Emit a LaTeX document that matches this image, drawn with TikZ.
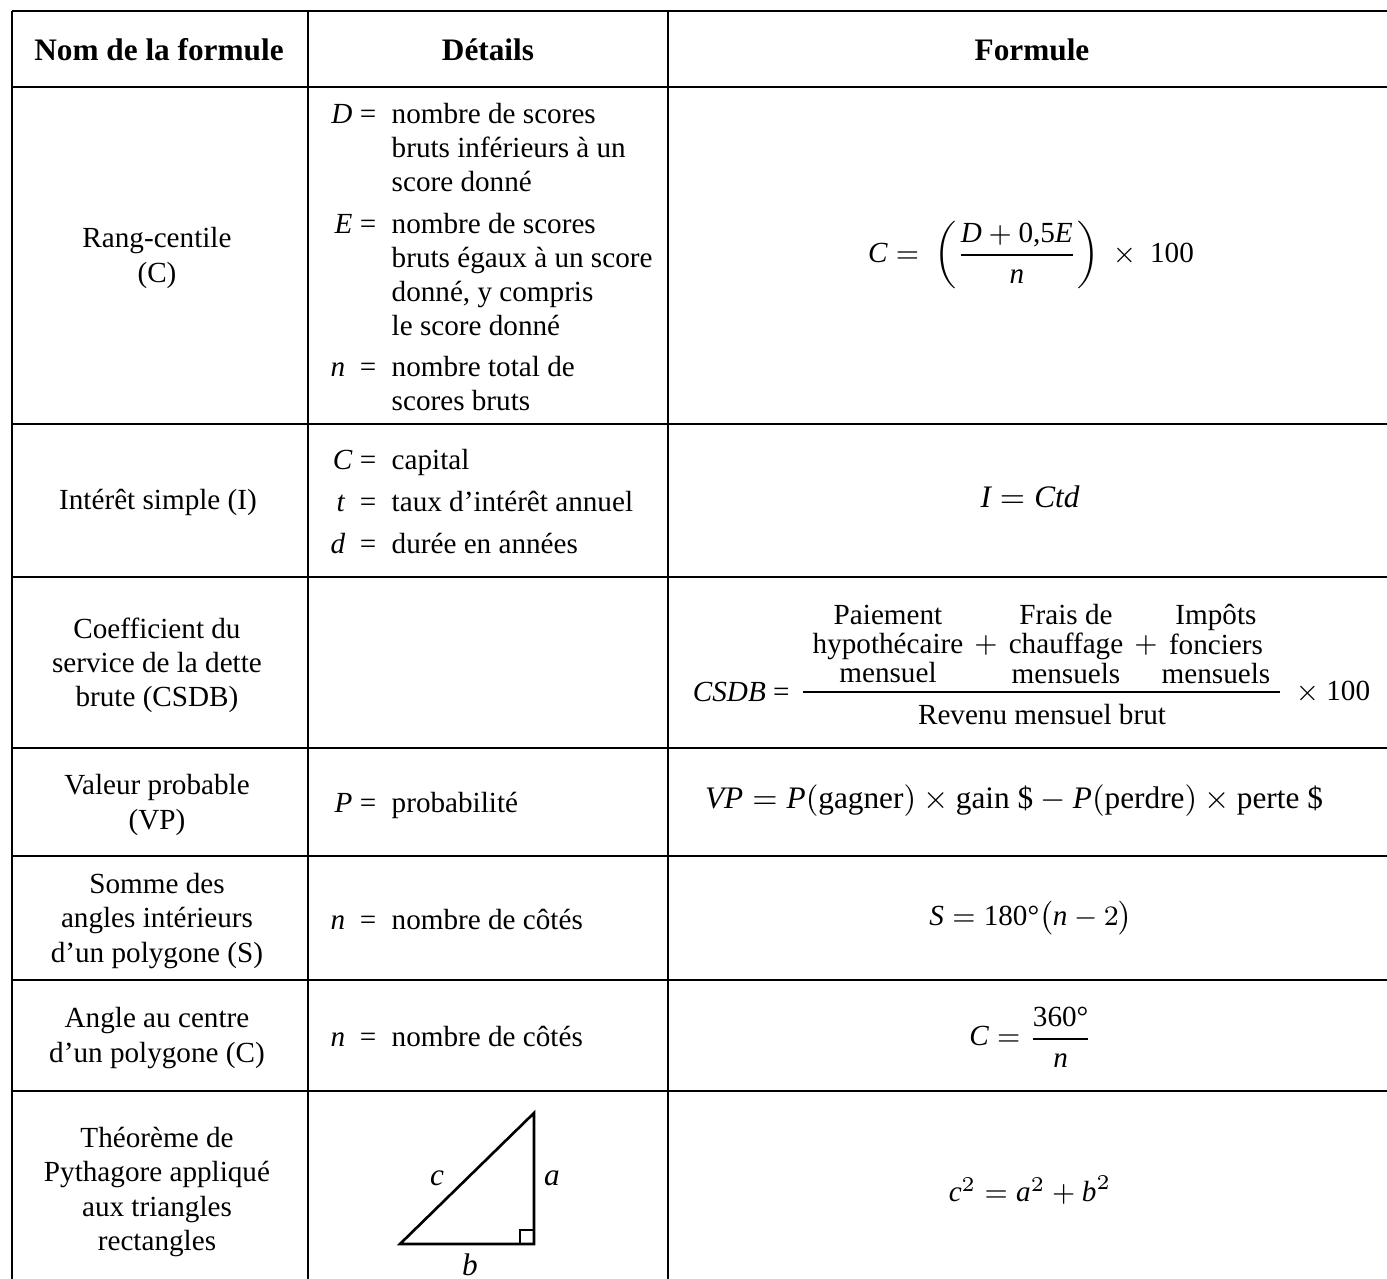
\documentclass[tikz,border=0pt]{standalone}
\usepackage{amsmath}
\usepackage{fontspec}
\setmainfont{Liberation Serif}

\tikzset{
	rule/.style={line width=0.75pt},
	head/.style={font=\bfseries\fontsize{8.9}{10.5}\selectfont},
	fname/.style={align=center,font=\fontsize{8.3}{9.7}\selectfont},
	var/.style={anchor=base east,inner sep=0pt,font=\fontsize{8.3}{9.7}\selectfont},
	desc/.style={anchor=base west,inner sep=0pt,align=left,font=\fontsize{8.3}{9.7}\selectfont},
	form/.style={font=\fontsize{8.3}{9.7}\selectfont},
	bigform/.style={font=\fontsize{8.9}{10.5}\selectfont},
	num/.style={align=center,inner sep=0pt,font=\fontsize{8.3}{8.3}\selectfont},
}

\begin{document}
\begin{tikzpicture}[x=1cm,y=-1cm]
	\useasboundingbox (0,0) rectangle (13.87,12.79);

	% grid
	\foreach \y in {0.11,0.87,4.24,5.77,7.48,8.56,9.80,10.91}
		\draw[rule] (0.12,\y) -- (13.87,\y);
	\foreach \x in {0.12,3.08,6.68}
		\draw[rule] (\x,0.11) -- (\x,12.79);

	% header
	\node[head] (hname) at (1.59,0.50) {Nom de la formule};
	\node[head] (hdet) at (4.88,0.50) {Détails};
	\node[head] (hform) at (10.32,0.50) {Formule};

	% first column
	\node[fname] (rang) at (1.57,2.58) {Rang-centile\\(C)};
	\node[fname] (inter) at (1.58,5.02) {Intérêt simple (I)};
	\node[fname] (csdb) at (1.57,6.65) {Coefficient du\\service de la dette\\brute (CSDB)};
	\node[fname] (vp) at (1.57,8.05) {Valeur probable\\(VP)};
	\node[fname] (somme) at (1.57,9.21) {Somme des\\angles intérieurs\\d’un polygone (S)};
	\node[fname] (angle) at (1.57,10.38) {Angle au centre\\d’un polygone (C)};
	\node[fname] (pyth) at (1.57,11.92) {Théorème de\\Pythagore appliqué\\aux triangles\\rectangles};

	% second column (multi-line texts sit on their last line)
	\node[var] (vD) at (3.77,1.24) {\textit{D} =};
	\node[desc] (dD) at (3.91,1.92) {nombre de scores\\bruts inférieurs à un\\score donné};
	\node[var] (vE) at (3.77,2.34) {\textit{E} =};
	\node[desc] (dE) at (3.91,3.36) {nombre de scores\\bruts égaux à un score\\donné, y compris\\le score donné};
	\node[var] (vn) at (3.77,3.77) {\textit{n} \ =};
	\node[desc] (dn) at (3.91,4.11) {nombre total de\\scores bruts};

	\node[var] (vC) at (3.77,4.70) {\textit{C} =};
	\node[desc] (dC) at (3.91,4.70) {capital};
	\node[var] (vt) at (3.77,5.12) {\textit{t} \ =};
	\node[desc] (dt) at (3.91,5.12) {taux d’intérêt annuel};
	\node[var] (vd) at (3.77,5.54) {\textit{d} \ =};
	\node[desc] (dd) at (3.91,5.54) {durée en années};

	\node[var] (vP) at (3.77,8.13) {\textit{P} =};
	\node[desc] (dP) at (3.91,8.13) {probabilité};

	\node[var] (vn2) at (3.77,9.30) {\textit{n} \ =};
	\node[desc] (dn2) at (3.91,9.30) {nombre de côtés};
	\node[var] (vn3) at (3.77,10.47) {\textit{n} \ =};
	\node[desc] (dn3) at (3.91,10.47) {nombre de côtés};

	% triangle
	\coordinate (tb) at (4.00,12.44);
	\coordinate (tr) at (5.34,12.44);
	\coordinate (tt) at (5.34,11.13);
	\draw[rule,line join=miter] (tb) -- (tr) -- (tt) -- cycle;
	\draw[rule] (5.20,12.44) rectangle (5.34,12.30);
	\node[bigform] (lc) at (4.37,11.78) {\textit{c}};
	\node[bigform] (la) at (5.52,11.78) {\textit{a}};
	\node[bigform] (lb) at (4.70,12.65) {\textit{b}};

	% third column
	\node[form] (frang) at (10.31,2.55)
		{$\textit{C} =\ \left(\dfrac{\textit{D} + \text{0,5}\textit{E}}{\textit{n}}\right)\ \times\ \text{100}$};
	\node[bigform] (finter) at (10.30,4.97) {$\textit{I} = \textit{Ctd}$};

	\node[form,anchor=east] (fcsdb) at (8.02,6.92) {\textit{CSDB} =};
	\node[num] (np) at (8.88,6.44) {Paiement\\hypothécaire\\mensuel};
	\node[form] (plus1) at (9.86,6.45) {$+$};
	\node[num] (nf) at (10.66,6.44) {Frais de\\chauffage\\mensuels};
	\node[form] (plus2) at (11.46,6.45) {$+$};
	\node[num] (ni) at (12.16,6.44) {Impôts\\fonciers\\mensuels};
	\draw[line width=0.6pt] (8.03,6.92) -- (12.80,6.92);
	\node[form] (den) at (10.42,7.15) {Revenu mensuel brut};
	\node[form] (fcent) at (13.33,6.92) {$\times\ \text{100}$};

	\node[bigform] (fvp) at (10.14,8.01)
		{$\textit{VP} = \textit{P}(\text{gagner}) \times \text{gain \$} - \textit{P}(\text{perdre}) \times \text{perte \$}$};
	\node[form] (fsom) at (10.31,9.18) {$\textit{S} = \text{180°}\bigl(\textit{n} - 2\bigr)$};
	\node[form] (fang) at (10.31,10.37) {$\textit{C} = \dfrac{\text{360°}}{\textit{n}}$};
	\node[form] (fpyth) at (10.30,11.90) {$\textit{c}^{2} = \textit{a}^{2} + \textit{b}^{2}$};

\end{tikzpicture}
\end{document}
